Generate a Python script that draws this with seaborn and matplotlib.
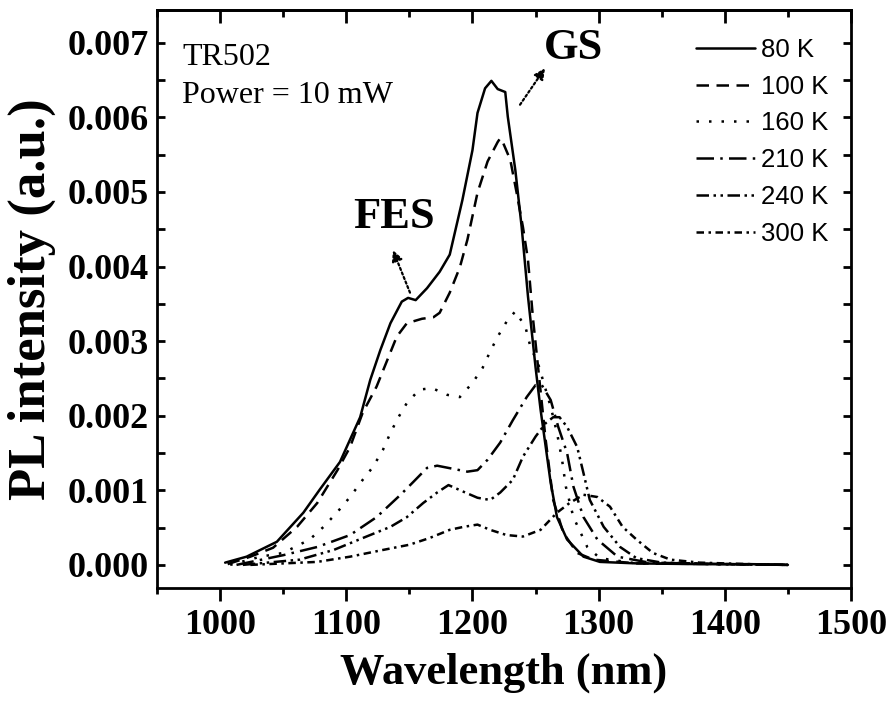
import numpy as np
import pandas as pd
import matplotlib
matplotlib.use("Agg")
import matplotlib.pyplot as plt
from matplotlib.ticker import MultipleLocator, FormatStrFormatter
import seaborn as sns

# ---- data ----
labels = ["80 K", "100 K", "160 K", "210 K", "240 K", "300 K"]

wl80 = [1004, 1021, 1045, 1066, 1079, 1095, 1103, 1111, 1119, 1127, 1135, 1144, 1149, 1155, 1164, 1174,
        1182, 1192, 1200, 1204, 1210, 1215, 1220, 1226, 1228, 1234, 1239, 1244, 1250, 1254, 1262, 1267,
        1275, 1288, 1301, 1330, 1380, 1420, 1450]
i80 = [0.00003, 0.00011, 0.00031, 0.00070, 0.00101, 0.00138, 0.00168, 0.00198, 0.00248, 0.00288, 0.00324,
       0.00353, 0.00358, 0.00355, 0.00371, 0.00393, 0.00416, 0.00489, 0.00556, 0.00606, 0.00639, 0.00649,
       0.00638, 0.00634, 0.00601, 0.00529, 0.00453, 0.00360, 0.00265, 0.00208, 0.00110, 0.00064, 0.00034,
       0.00011, 0.00004, 0.00002, 0.00001, 0.00001, 0.0]

wl100 = [1006, 1024, 1042, 1061, 1077, 1093, 1103, 1113, 1124, 1140, 1148, 1160, 1169, 1174, 1182, 1190,
         1196, 1204, 1212, 1220, 1222, 1224, 1230, 1235, 1240, 1244, 1248, 1258, 1264, 1272, 1283, 1296,
         1330, 1400, 1450]
i100 = [0.00001, 0.00011, 0.00023, 0.00051, 0.00083, 0.00127, 0.00158, 0.00204, 0.00239, 0.00306, 0.00324,
        0.00330, 0.00332, 0.00338, 0.00365, 0.00399, 0.00436, 0.00499, 0.00541, 0.00567, 0.00572, 0.00567,
        0.00543, 0.00499, 0.00453, 0.00409, 0.00330, 0.00168, 0.00087, 0.00043, 0.00016, 0.00007, 0.00002,
        0.00001, 0.0]

wl160 = [1008, 1032, 1050, 1071, 1082, 1093, 1103, 1113, 1121, 1129, 1135, 1141, 1148, 1158, 1168, 1180,
         1190, 1200, 1208, 1214, 1220, 1227, 1234, 1242, 1246, 1252, 1262, 1267, 1271, 1274, 1280, 1291,
         1301, 1330, 1400, 1450]
i160 = [0.0, 0.00011, 0.00016, 0.00034, 0.00051, 0.00071, 0.00091, 0.00114, 0.00131, 0.00154, 0.00177,
        0.00197, 0.00217, 0.00235, 0.00237, 0.00228, 0.00225, 0.00244, 0.00264, 0.00286, 0.00306, 0.00326,
        0.00340, 0.00319, 0.00292, 0.00270, 0.00212, 0.00177, 0.00141, 0.00105, 0.00064, 0.00024, 0.00009,
        0.00002, 0.00001, 0.0]

wl210 = [1013, 1050, 1077, 1103, 1124, 1143, 1153, 1164, 1172, 1181, 1190, 1196, 1204, 1212, 1222, 1232,
         1243, 1250, 1255, 1262, 1268, 1275, 1280, 1288, 1299, 1315, 1340, 1400, 1450]
i210 = [0.0, 0.00013, 0.00024, 0.00040, 0.00064, 0.00094, 0.00111, 0.00130, 0.00133, 0.00130, 0.00127,
        0.00125, 0.00127, 0.00141, 0.00164, 0.00194, 0.00225, 0.00241, 0.00241, 0.00221, 0.00185, 0.00150,
        0.00105, 0.00064, 0.00034, 0.00011, 0.00003, 0.00001, 0.0]

wl240 = [1018, 1063, 1090, 1116, 1135, 1148, 1161, 1172, 1181, 1193, 1204, 1214, 1222, 1232, 1240, 1250,
         1258, 1264, 1269, 1275, 1283, 1288, 1293, 1304, 1317, 1330, 1350, 1400, 1450]
i240 = [0.0, 0.00007, 0.00020, 0.00038, 0.00051, 0.00064, 0.00083, 0.00097, 0.00107, 0.00098, 0.00090,
        0.00087, 0.00097, 0.00114, 0.00145, 0.00172, 0.00190, 0.00198, 0.00198, 0.00185, 0.00158, 0.00123,
        0.00087, 0.00051, 0.00024, 0.00009, 0.00003, 0.00001, 0.0]

wl300 = [1024, 1077, 1103, 1129, 1150, 1166, 1182, 1193, 1204, 1214, 1227, 1240, 1254, 1267, 1277, 1288,
         1299, 1309, 1319, 1330, 1343, 1357, 1380, 1420, 1450]
i300 = [0.0, 0.00004, 0.00011, 0.00020, 0.00027, 0.00036, 0.00047, 0.00051, 0.00054, 0.00047, 0.00040,
        0.00038, 0.00047, 0.00070, 0.00083, 0.00094, 0.00091, 0.00078, 0.00051, 0.00034, 0.00016, 0.00007,
        0.00003, 0.00001, 0.0]

xticks = [1000, 1100, 1200, 1300, 1400, 1500]
yticks = [0.000, 0.001, 0.002, 0.003, 0.004, 0.005, 0.006, 0.007]

series = [(wl80, i80), (wl100, i100), (wl160, i160), (wl210, i210), (wl240, i240), (wl300, i300)]
styles = ["-", (0, (5, 3)), (0, (1, 4)), (0, (7, 2.5, 1, 2.5)), (0, (5, 1.8, 1, 1.8, 1, 1.8)),
          (0, (3, 1.8, 1, 1.8))]

# ---- figure ----
sns.set_style("ticks")
plt.rcParams["font.family"] = ["Liberation Serif", "DejaVu Serif"]
for k in ["text.color", "axes.labelcolor", "xtick.color", "ytick.color", "axes.edgecolor"]:
    plt.rcParams[k] = "black"

fig = plt.figure(figsize=(8.94, 7.06), dpi=100)
ax = fig.add_axes([157 / 894, 1 - 588 / 706, 694 / 894, 578 / 706])

for (x, y), lab, ls in zip(series, labels, styles):
    df = pd.DataFrame({"Wavelength": x, "PL": y})
    sns.lineplot(data=df, x="Wavelength", y="PL", ax=ax, color="black", linewidth=1.8,
                 linestyle=ls, label=lab, estimator=None, sort=False)

ax.set_xlim(950, 1500)
ax.set_ylim(-0.00031, 0.00744)
ax.set_xticks(xticks)
ax.set_yticks(yticks)
ax.xaxis.set_minor_locator(MultipleLocator(50))
ax.yaxis.set_minor_locator(MultipleLocator(0.0005))
ax.yaxis.set_major_formatter(FormatStrFormatter("%.3f"))

for sp in ax.spines.values():
    sp.set_linewidth(2)
    sp.set_visible(True)
    sp.set_color("black")

ax.tick_params(axis="x", which="major", direction="out", length=9, width=2, top=False,
               labelsize=26, pad=6)
ax.tick_params(axis="x", which="minor", direction="out", length=4.5, width=2, top=False)
ax.tick_params(axis="y", which="both", direction="in", length=6, width=2, left=True, right=True,
               labelsize=26, pad=6)
for t in ax.get_xticklabels() + ax.get_yticklabels():
    t.set_fontweight("bold")

sec = ax.secondary_xaxis("top")
sec.set_xticks(xticks)
sec.xaxis.set_minor_locator(MultipleLocator(50))
sec.tick_params(axis="x", which="major", direction="in", length=9, width=2, labeltop=False)
sec.tick_params(axis="x", which="minor", direction="in", length=5, width=2)
sec.spines["top"].set_linewidth(2)

ax.set_xlabel("Wavelength (nm)", fontsize=32, fontweight="bold", labelpad=8)
ax.set_ylabel("PL intensity (a.u.)", fontsize=38, fontweight="bold", labelpad=8)

# legend
leg = ax.legend(loc="upper left", bbox_to_anchor=(0.776, 0.952), frameon=False, borderpad=0,
                borderaxespad=0, handlelength=2.3, handletextpad=0.25, labelspacing=0.5,
                prop={"family": "Liberation Sans", "size": 18.5})

# text annotations
ax.text(0.036, 0.905, "TR502", transform=ax.transAxes, fontsize=23, ha="left", va="baseline")
ax.text(0.036, 0.839, "Power = 10 mW", transform=ax.transAxes, fontsize=23, ha="left", va="baseline")

ax.text(1138, 0.00467, "FES", fontsize=32, fontweight="bold", ha="center", va="center")
ax.text(1280, 0.00693, "GS", fontsize=32, fontweight="bold", ha="center", va="center")

arrow_kw = dict(arrowstyle="-|>", linestyle=(0, (1, 1.2)), lw=1.6, color="black", mutation_scale=16,
                shrinkA=0, shrinkB=0)
ax.annotate("", xy=(1137, 0.00422), xytext=(1150.5, 0.00365), arrowprops=arrow_kw)
ax.annotate("", xy=(1257.5, 0.00666), xytext=(1237.7, 0.00617), arrowprops=arrow_kw)

fig.savefig("out.png", dpi=100)
